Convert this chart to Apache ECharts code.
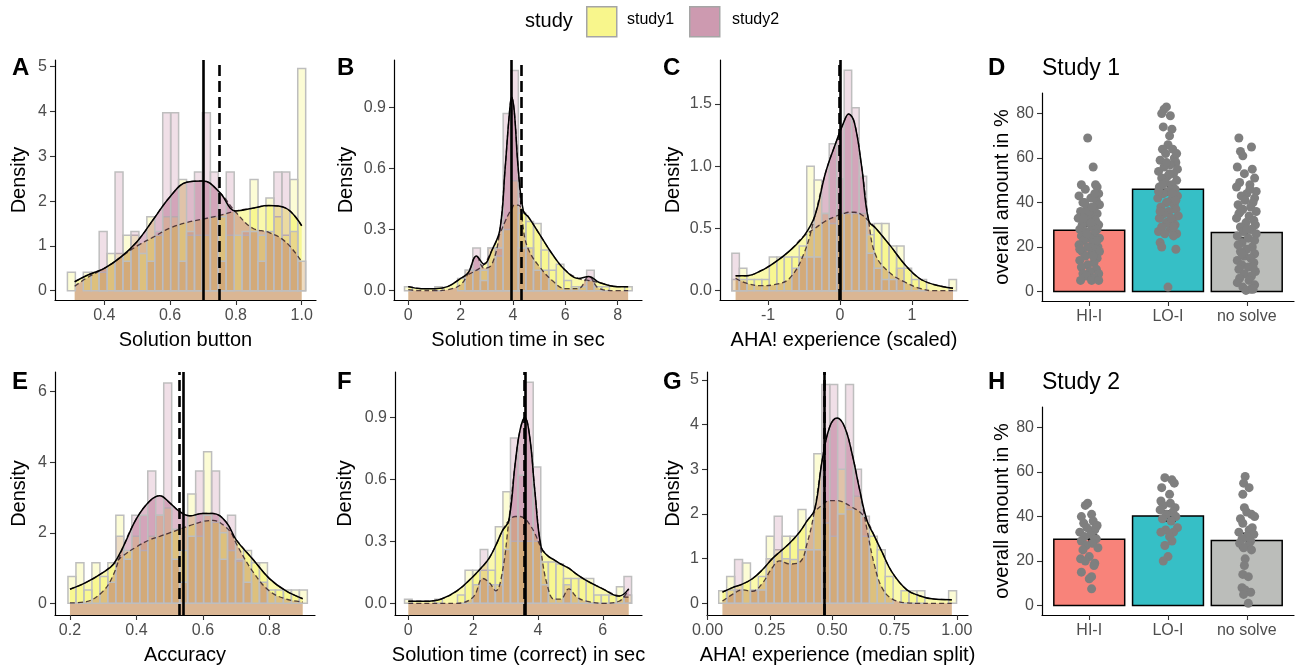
<!DOCTYPE html>
<html><head><meta charset="utf-8">
<script src="https://cdn.jsdelivr.net/npm/echarts@6/dist/echarts.min.js"></script>
<style>html,body{margin:0;padding:0;background:#fff}#chart{width:1304px;height:668px}</style>
</head><body><div id="chart"></div>
<script>
// ================= DATA =================
// Panel A - Solution button
const A_binStart = 0.3, A_binWidth = 0.02414;
const A_hist_study1 = [0.41,0,0.41,0.41,0.41,0.83,0.83,1.24,1.24,0.83,1.65,1.24,1.65,1.65,2.48,1.24,1.24,1.24,1.65,1.65,1.24,1.24,1.24,2.48,1.24,2.07,1.65,1.24,2.48,4.96];
const A_hist_study2 = [0,0,0,0,1.32,0,2.65,0.66,1.32,0,0.66,1.32,3.97,3.97,0.66,1.32,2.65,3.97,2.65,0.66,2.65,0,1.32,1.32,0.66,1.32,2.65,2.65,1.32,0.66];
const A_dens_x = [0.31,0.35,0.4,0.45,0.5,0.55,0.6,0.65,0.7,0.75,0.8,0.85,0.9,0.95,1.0];
const A_dens_study1 = [0.2,0.35,0.5,0.75,1.0,1.2,1.4,1.52,1.6,1.68,1.78,1.84,1.9,1.85,1.45];
const A_dens_study2 = [0.1,0.3,0.5,0.75,1.1,1.6,2.1,2.42,2.45,2.2,1.75,1.4,1.3,1.1,0.65];
const A_means = [0.703, 0.752];
const A_xticks = [0.4,0.6,0.8,1.0], A_yticks = [0,1,2,3,4,5];

// Panel B - Solution time in sec
const B_binStart = 0, B_binWidth = 0.29;
const B_hist_study1 = [0.02,0,0,0,0.02,0,0,0.06,0.1,0.1,0.1,0.21,0.17,0.3,0.54,0.38,0.34,0.33,0.2,0.1,0.13,0.05,0.02,0.02,0.05,0.02,0.02,0,0,0.02];
const B_hist_study2 = [0,0,0,0,0,0,0,0,0.1,0.21,0.05,0.21,0.21,0.87,1.08,0.21,0.21,0.1,0.1,0,0,0,0,0,0.1,0,0,0,0,0];
const B_dens_x = [0,0.5,1,1.5,2,2.3,2.6,2.9,3.2,3.5,3.7,3.85,3.95,4.05,4.2,4.4,4.6,5,5.5,6,6.5,6.9,7.3,8,8.4];
const B_dens_study1 = [0.02,0.01,0.01,0.02,0.06,0.08,0.1,0.13,0.2,0.28,0.34,0.38,0.4,0.42,0.42,0.39,0.36,0.28,0.18,0.1,0.06,0.05,0.04,0.02,0.02];
const B_dens_study2 = [0.005,0,0,0.005,0.03,0.09,0.17,0.11,0.13,0.3,0.6,0.85,0.95,0.88,0.6,0.3,0.2,0.12,0.05,0.01,0.01,0.07,0.01,0,0];
const B_means = [3.93, 4.32];
const B_xticks = [0,2,4,6,8], B_yticks = [0,0.3,0.6,0.9];

// Panel C - AHA! experience (scaled)
const C_binStart = -1.45, C_binWidth = 0.104;
const C_hist_study1 = [0.09,0.18,0.09,0.09,0.09,0.27,0.27,0.27,0.27,0.36,1.0,0.89,0.62,0.54,0.62,0.62,0.62,0.62,0.45,0.54,0.54,0.36,0.36,0.18,0.09,0.09,0,0,0,0.09];
const C_hist_study2 = [0.3,0.09,0,0,0,0,0,0,0.18,0.27,0.27,0.27,0.62,1.18,0.9,1.77,1.47,0.92,0.3,0.18,0.09,0.09,0.18,0,0,0,0,0,0,0];
const C_dens_x = [-1.45,-1.3,-1.1,-0.9,-0.7,-0.5,-0.35,-0.2,-0.05,0.05,0.12,0.2,0.3,0.4,0.5,0.7,0.9,1.1,1.3,1.57];
const C_dens_study1 = [0.12,0.12,0.16,0.23,0.32,0.44,0.5,0.56,0.6,0.62,0.63,0.63,0.61,0.56,0.5,0.36,0.21,0.1,0.05,0.02];
const C_dens_study2 = [0.1,0.06,0.04,0.05,0.1,0.3,0.6,0.95,1.2,1.35,1.42,1.35,1.0,0.55,0.28,0.14,0.07,0.02,0,0];
const C_means = [-0.012, 0.012];
const C_xticks = [-1,0,1], C_yticks = [0,0.5,1.0,1.5];

// Panel E - Accuracy
const E_binStart = 0.206, E_binWidth = 0.024;
const E_hist_study1 = [0.76,1.15,0.38,1.15,0.76,1.15,2.5,1.5,1.9,1.5,1.9,2.5,2.7,2.1,1.5,3.1,1.9,4.3,2.3,2.0,1.5,1.2,1.5,1.15,1.15,0.38,0.38,0.38,0.38,0.38];
const E_hist_study2 = [0,0,0,0,0,0.6,1.9,1.25,2.5,2.5,3.75,2.5,6.25,1.25,0.6,1.9,3.75,2.5,3.75,1.25,2.5,1.25,0.6,0,0.6,0,0,0,0,0];
const E_dens_x = [0.2,0.25,0.3,0.33,0.36,0.4,0.44,0.47,0.5,0.53,0.56,0.6,0.63,0.67,0.7,0.75,0.8,0.85,0.9];
const E_dens_study1 = [0.4,0.6,0.88,1.1,1.35,1.6,1.8,1.9,2.0,2.1,2.2,2.32,2.35,2.15,1.8,1.25,0.7,0.35,0.13];
const E_dens_study2 = [0.01,0.05,0.35,0.8,1.6,2.4,2.9,3.05,2.85,2.6,2.48,2.55,2.55,2.3,1.7,0.9,0.35,0.12,0.04];
const E_means = [0.529, 0.535];
const E_xticks = [0.2,0.4,0.6,0.8], E_yticks = [0,2,4,6];

// Panel F - Solution time (correct) in sec
const F_binStart = 0, F_binWidth = 0.2335;
const F_hist_study1 = [0.02,0,0,0,0.02,0,0,0.04,0.16,0.16,0.16,0.16,0.37,0.54,0.3,0.3,0.3,0.3,0.2,0.2,0.19,0.12,0.12,0.12,0.12,0.04,0.04,0.04,0.08,0.04];
const F_hist_study2 = [0,0,0,0,0,0,0,0,0,0.09,0.26,0.09,0.09,0.26,0.8,0.62,1.07,0.66,0.09,0,0,0.09,0,0,0,0,0,0,0,0.13];
const F_dens_x = [0,0.5,1,1.5,2,2.3,2.5,2.7,2.9,3.1,3.3,3.45,3.6,3.75,3.9,4.1,4.3,4.5,4.7,4.95,5.2,5.5,6,6.5,6.8];
const F_dens_study1 = [0.01,0.01,0.02,0.06,0.13,0.18,0.22,0.28,0.35,0.4,0.42,0.42,0.41,0.38,0.34,0.27,0.23,0.21,0.19,0.17,0.14,0.11,0.07,0.035,0.03];
const F_dens_study2 = [0,0,0,0,0.03,0.12,0.1,0.06,0.15,0.4,0.68,0.84,0.9,0.8,0.55,0.25,0.08,0.02,0.02,0.07,0.03,0.01,0,0.01,0.07];
const F_means = [3.575, 3.61];
const F_xticks = [0,2,4,6], F_yticks = [0,0.3,0.6,0.9];

// Panel G - AHA! experience (median split)
const G_binStart = 0.061, G_binWidth = 0.0318;
const G_hist_study1 = [0.28,0.6,0.3,0.9,0.28,0.6,1.5,1.2,1.5,1.5,2.1,1.2,3.35,1.8,1.5,3.0,2.1,2.4,1.5,1.5,1.2,0.6,0,0.28,0.28,0.28,0,0,0,0.28];
const G_hist_study2 = [0,0.3,0.98,0,0.3,0.3,1.0,1.95,1.0,0.98,1.2,1.2,1.2,4.9,4.9,2.0,4.9,3.0,1.95,0,0,0,0,0,0,0,0,0,0,0];
const G_dens_x = [0.06,0.1,0.14,0.18,0.22,0.26,0.29,0.33,0.37,0.4,0.43,0.46,0.49,0.52,0.55,0.58,0.61,0.64,0.67,0.7,0.74,0.8,0.85,0.9,0.98];
const G_dens_study1 = [0.25,0.35,0.43,0.55,0.75,1.0,1.15,1.35,1.6,1.85,2.05,2.2,2.3,2.3,2.25,2.15,2.05,1.85,1.5,1.15,0.7,0.3,0.17,0.1,0.08];
const G_dens_study2 = [0.05,0.2,0.3,0.27,0.45,0.8,0.95,0.88,0.92,1.35,2.1,3.2,3.95,4.15,3.95,3.35,2.55,1.65,0.85,0.35,0.1,0.01,0,0,0];
const G_means = [0.465, 0.475];
const G_xticks = [0,0.25,0.5,0.75,1.0], G_yticks = [0,1,2,3,4,5];

// Panels D / H - overall amount in %
const categories = ['HI-I','LO-I','no solve'];
const pct_yticks = [0,20,40,60,80];
const D_means = [27.5, 46, 26.5];
const D_err = [[25.5,29.5],[43.5,48.5],[24,29]];
const D_points_HI = [[-0.02,69],[0.05,56],[-0.1,48],[0.08,48],[0.1,47],[-0.05,46],[0.12,44],[-0.13,43],[0.02,42],[0.09,41],[-0.08,40],[0.13,39],[-0.03,38],[0.06,37],[-0.11,36],[0.1,35],[-0.06,34],[0.03,34],[-0.14,33],[0.08,32],[-0.01,31],[0.12,30],[-0.09,30],[0.04,29],[-0.12,28],[0.1,28],[-0.04,27],[0.07,26],[-0.1,25],[0.01,24],[0.13,24],[-0.07,23],[0.05,22],[-0.13,21],[0.11,20],[-0.02,20],[0.08,19],[0.13,18],[-0.09,18],[0.03,17],[-0.05,16],[0.1,15],[-0.12,14],[0.06,13],[-0.02,12],[-0.1,11],[0.09,10],[0.01,9],[-0.08,8],[0.12,8],[-0.04,7],[0.06,6],[-0.11,5],[0.03,5],[0.12,5],[0.0,36],[-0.06,40],[0.07,44],[-0.03,26],[0.02,31],[0.04,38],[-0.07,33],[0.1,23],[-0.12,19],[0.05,16]];
const D_points_LO = [[-0.02,83],[-0.05,82],[-0.08,80],[0.03,79],[-0.06,74],[0.05,73],[0.02,70],[0.0,66],[-0.07,64],[0.06,64],[-0.03,62],[0.08,60],[-0.1,59],[0.1,58],[0.03,57],[-0.05,56],[0.12,55],[-0.12,54],[0.07,53],[0.0,52],[-0.08,51],[0.11,50],[-0.03,49],[0.05,48],[-0.11,47],[0.09,46],[0.0,45],[-0.06,44],[0.12,43],[-0.13,42],[0.04,41],[-0.02,40],[0.08,39],[-0.09,38],[0.1,37],[0.01,36],[-0.05,35],[0.13,34],[-0.11,33],[0.06,32],[-0.02,31],[0.09,30],[-0.08,29],[0.03,28],[-0.12,27],[0.11,26],[-0.04,26],[0.07,25],[-0.1,22],[-0.08,20],[0.1,19],[0.0,2],[0.05,44],[-0.07,48],[0.02,53],[0.1,41],[-0.1,36],[0.04,33],[-0.02,58],[0.11,62],[-0.12,45],[0.07,29]];
const D_points_NO = [[-0.1,69],[0.06,65],[-0.08,63],[-0.05,61],[-0.12,56],[0.07,55],[-0.03,53],[0.1,51],[-0.09,49],[0.04,48],[-0.13,47],[0.12,45],[0.0,44],[-0.07,43],[0.1,42],[-0.02,41],[0.08,40],[-0.11,39],[0.05,38],[-0.05,37],[0.12,36],[-0.1,35],[0.03,34],[-0.13,33],[0.09,32],[-0.01,31],[0.11,30],[-0.08,29],[0.06,28],[-0.04,27],[0.12,26],[-0.12,25],[0.02,24],[0.1,23],[-0.06,22],[-0.11,21],[0.07,20],[0.0,19],[-0.08,18],[0.1,17],[-0.03,16],[0.05,15],[-0.12,14],[0.09,13],[-0.06,12],[0.02,11],[-0.1,10],[0.11,9],[-0.03,8],[0.06,7],[-0.09,6],[0.03,5],[-0.12,4],[0.1,3],[-0.05,2],[0.05,1],[-0.01,0.5],[0.08,1],[-0.08,36],[0.0,28],[0.04,46],[-0.06,17],[0.08,11]];
const H_means = [29.8, 40.3, 29.2];
const H_err = [[27.5,32],[38,42.5],[26,32.5]];
const H_points_HI = [[-0.02,46],[-0.05,45],[0.03,41],[-0.1,40],[0.05,38],[-0.07,37],[0.1,36],[-0.03,35],[0.07,34],[-0.12,33],[0.02,32],[-0.06,31],[0.09,30],[-0.1,29],[0.04,28],[-0.04,27],[0.11,26],[-0.08,25],[0.0,22],[-0.11,21],[-0.05,20],[0.07,19],[0.06,18],[-0.1,15],[0.03,13],[0.0,12],[0.03,7.5],[0.08,35]];
const H_points_LO = [[-0.04,57.5],[0.05,56.5],[0.08,55],[-0.08,53],[0.02,50],[-0.09,47],[0.03,46],[-0.06,45],[0.09,44],[-0.1,43],[0.06,42],[-0.02,41],[0.1,40],[-0.07,39],[0.04,38],[0.12,35],[-0.03,34],[0.07,33],[-0.09,33],[0.02,31],[0.05,29],[-0.04,27],[0.0,22],[-0.06,20]];
const H_points_NO = [[-0.02,58],[-0.04,55],[0.03,53],[-0.05,50],[-0.03,44],[0.0,42],[0.06,41],[0.1,40],[-0.08,39],[-0.05,37],[0.07,35],[0.03,34],[-0.1,33],[0.09,32],[0.0,31],[-0.06,30],[0.05,29],[-0.09,28],[0.02,27],[-0.04,26],[0.06,25],[-0.02,21],[-0.03,18],[-0.05,14],[0.02,13],[-0.06,8],[-0.02,7],[0.05,6],[-0.04,5],[0.02,1]];

// ================= STYLE / LAYOUT =================
const FONT = "'Liberation Sans', Arial, Helvetica, sans-serif";
const DENS1 = 'rgba(241,237,21,0.5)', DENS2 = 'rgba(159,59,105,0.5)';
const BAR1 = 'rgba(241,237,21,0.18)', BAR2 = 'rgba(159,59,105,0.16)';
const CAT_COLORS = ['#F8837A','#36BFC6','#BBBDBA'];
const fx = d => v => Number(v).toFixed(d);

const histPanels = [
  {g:[55,60,261,240], xr:[0.2502,1.0435], yr:[-0.2076,5.15], xt:A_xticks, xd:1, yt:A_yticks, yd:0, xname:'Solution button', yGap:26,
   bs:A_binStart, bw:A_binWidth, h1:A_hist_study1, h2:A_hist_study2, dx:A_dens_x, d1:A_dens_study1, d2:A_dens_study2, m:A_means, solidIdx:0},
  {g:[394,60,248,240], xr:[-0.546,8.93], yr:[-0.0456,1.132], xt:B_xticks, xd:0, yt:B_yticks, yd:1, xname:'Solution time in sec', yGap:38,
   bs:B_binStart, bw:B_binWidth, h1:B_hist_study1, h2:B_hist_study2, dx:B_dens_x, d1:B_dens_study1, d2:B_dens_study2, m:B_means, solidIdx:0},
  {g:[720,60,248,240], xr:[-1.667,1.778], yr:[-0.0747,1.853], xt:C_xticks, xd:0, yt:C_yticks, yd:1, xname:'AHA! experience (scaled)', yGap:37,
   bs:C_binStart, bw:C_binWidth, h1:C_hist_study1, h2:C_hist_study2, dx:C_dens_x, d1:C_dens_study1, d2:C_dens_study2, m:C_means, solidIdx:1},
  {g:[55,372,260,243], xr:[0.155,0.937], yr:[-0.332,6.56], xt:E_xticks, xd:1, yt:E_yticks, yd:0, xname:'Accuracy', yGap:26,
   bs:E_binStart, bw:E_binWidth, h1:E_hist_study1, h2:E_hist_study2, dx:E_dens_x, d1:E_dens_study1, d2:E_dens_study2, m:E_means, solidIdx:1},
  {g:[395,372,247,243], xr:[-0.411,7.21], yr:[-0.0566,1.119], xt:F_xticks, xd:0, yt:F_yticks, yd:1, xname:'Solution time (correct) in sec', yGap:40,
   bs:F_binStart, bw:F_binWidth, h1:F_hist_study1, h2:F_hist_study2, dx:F_dens_x, d1:F_dens_study1, d2:F_dens_study2, m:F_means, solidIdx:1},
  {g:[707,372,261,243], xr:[-0.002,1.045], yr:[-0.262,5.18], xt:G_xticks, xd:2, yt:G_yticks, yd:0, xname:'AHA! experience (median split)', yGap:24,
   bs:G_binStart, bw:G_binWidth, h1:G_hist_study1, h2:G_hist_study2, dx:G_dens_x, d1:G_dens_study1, d2:G_dens_study2, m:G_means, solidIdx:1}
];
const barPanels = [
  {g:[1042,93,252,208], means:D_means, err:D_err, pts:[D_points_HI,D_points_LO,D_points_NO]},
  {g:[1042,407,252,208], means:H_means, err:H_err, pts:[H_points_HI,H_points_LO,H_points_NO]}
];

const grids = [], xAxes = [], yAxes = [], series = [];
const axisLineStyle = {show:true, onZero:false, lineStyle:{color:'#000', width:1.2}};
const tickStyle = vals => ({show:true, customValues:vals, length:5, lineStyle:{color:'#333', width:1.1}});
const labelStyle = (vals, f, margin) => ({show:true, customValues:vals, formatter:f, color:'#4D4D4D', fontSize:16, fontFamily:FONT, margin:margin});

function addGrid(g){
  grids.push({left:g[0], top:g[1], width:g[2], height:g[3], containLabel:false, outerBoundsMode:'none'});
  return grids.length - 1;
}

function histSeries(gi, start, w, heights, fill){
  const data = [];
  heights.forEach((h,k) => { if (h > 0) data.push([start + k*w, h]); });
  return {type:'custom', xAxisIndex:gi, yAxisIndex:gi, z:3, silent:true, data:data, encode:{x:0,y:1},
    renderItem:(params, api) => {
      const c = api.value(0), h = api.value(1);
      const p0 = api.coord([c - w/2, h]), p1 = api.coord([c + w/2, 0]);
      return {type:'rect', shape:{x:p0[0], y:p0[1], width:p1[0]-p0[0], height:p1[1]-p0[1]},
        style:{fill:fill, stroke:'#BEBEBE', lineWidth:1.5}};
    }};
}

histPanels.forEach(p => {
  const gi = addGrid(p.g);
  xAxes.push({type:'value', gridIndex:gi, min:p.xr[0], max:p.xr[1], axisLine:axisLineStyle, axisTick:tickStyle(p.xt),
    axisLabel:labelStyle(p.xt, fx(p.xd), 8), splitLine:{show:false},
    name:p.xname, nameLocation:'middle', nameGap:30, nameTextStyle:{color:'#000', fontSize:20, fontFamily:FONT}});
  yAxes.push({type:'value', gridIndex:gi, min:p.yr[0], max:p.yr[1], axisLine:axisLineStyle, axisTick:tickStyle(p.yt),
    axisLabel:labelStyle(p.yt, fx(p.yd), 8), splitLine:{show:false},
    name:'Density', nameLocation:'middle', nameGap:p.yGap, nameTextStyle:{color:'#000', fontSize:20, fontFamily:FONT}});
  const pts1 = p.dx.map((x,i) => [x, p.d1[i]]);
  const pts2 = p.dx.map((x,i) => [x, p.d2[i]]);
  const env = p.dx.map((x,i) => [x, Math.max(p.d1[i], p.d2[i])]);
  const base = {type:'line', xAxisIndex:gi, yAxisIndex:gi, smooth:0.4, showSymbol:false, symbol:'none', silent:true};
  series.push(Object.assign({}, base, {data:pts1, z:1, lineStyle:{width:0, opacity:0}, areaStyle:{color:DENS1, origin:'start'}}));
  series.push(Object.assign({}, base, {data:pts2, z:1, lineStyle:{width:0, opacity:0}, areaStyle:{color:DENS2, origin:'start'}}));
  series.push(histSeries(gi, p.bs, p.bw, p.h1, BAR1));
  series.push(histSeries(gi, p.bs, p.bw, p.h2, BAR2));
  series.push(Object.assign({}, base, {data:pts1, z:4, lineStyle:{width:1.3, color:'rgba(45,25,35,0.8)', type:[5,3]}}));
  series.push(Object.assign({}, base, {data:pts2, z:4, lineStyle:{width:1.3, color:'rgba(45,25,35,0.8)', type:[5,3]}}));
  const solid = p.m[p.solidIdx], dashed = p.m[1 - p.solidIdx];
  series.push(Object.assign({}, base, {data:env, z:5, lineStyle:{width:1.5, color:'#000'},
    markLine:{silent:true, symbol:['none','none'], label:{show:false}, animation:false,
      data:[{xAxis:dashed, lineStyle:{type:[11,5], width:2.6, color:'#000'}},
            {xAxis:solid, lineStyle:{type:'solid', width:2.6, color:'#000'}}]}}));
});

barPanels.forEach(p => {
  const gi = addGrid(p.g);
  xAxes.push({type:'value', gridIndex:gi, min:0.4, max:3.6, axisLine:axisLineStyle, axisTick:tickStyle([1,2,3]),
    axisLabel:labelStyle([1,2,3], v => categories[Math.round(v) - 1], 8), splitLine:{show:false}});
  yAxes.push({type:'value', gridIndex:gi, min:-4.25, max:89.25, axisLine:axisLineStyle, axisTick:tickStyle(pct_yticks),
    axisLabel:labelStyle(pct_yticks, fx(0), 8), splitLine:{show:false},
    name:'overall amount in %', nameLocation:'middle', nameGap:27, nameTextStyle:{color:'#000', fontSize:20, fontFamily:FONT}});
  series.push({type:'custom', xAxisIndex:gi, yAxisIndex:gi, z:2, silent:true, encode:{x:0,y:1},
    data:p.means.map((m,i) => [i+1, m, i]),
    renderItem:(params, api) => {
      const c = api.value(0), m = api.value(1), ci = api.value(2);
      const p0 = api.coord([c - 0.45, m]), p1 = api.coord([c + 0.45, 0]);
      return {type:'rect', shape:{x:p0[0], y:p0[1], width:p1[0]-p0[0], height:p1[1]-p0[1]},
        style:{fill:CAT_COLORS[ci], stroke:'#000', lineWidth:1.5}};
    }});
  series.push({type:'custom', xAxisIndex:gi, yAxisIndex:gi, z:3, silent:true, encode:{x:0,y:[1,2]},
    data:p.err.map((e,i) => [i+1, e[0], e[1]]),
    renderItem:(params, api) => {
      const c = api.value(0);
      const lo = api.coord([c, api.value(1)]), hi = api.coord([c, api.value(2)]);
      const l = api.coord([c - 0.1, api.value(1)]), r = api.coord([c + 0.1, api.value(2)]);
      const st = {stroke:'#000', lineWidth:1.5};
      return {type:'group', children:[
        {type:'line', shape:{x1:lo[0], y1:lo[1], x2:hi[0], y2:hi[1]}, style:st},
        {type:'line', shape:{x1:l[0], y1:lo[1], x2:r[0], y2:lo[1]}, style:st},
        {type:'line', shape:{x1:l[0], y1:hi[1], x2:r[0], y2:hi[1]}, style:st}]};
    }});
  p.pts.forEach((arr, ci) => {
    series.push({type:'scatter', xAxisIndex:gi, yAxisIndex:gi, z:4, silent:true, symbolSize:9,
      itemStyle:{color:'#7F7F7F', opacity:1}, data:arr.map(d => [ci + 1 + d[0], d[1]])});
  });
});

// ---- text elements ----
const letters = [['A',12,68.5],['B',337,68.5],['C',663,68.5],['D',988,68.5],['E',12,382.5],['F',337,382.5],['G',663,382.5],['H',988,382.5]];
const graphic = letters.map(l => ({type:'text', left:l[1], top:l[2]-12, silent:true,
  style:{text:l[0], fontSize:24, fontWeight:'bold', fontFamily:FONT, fill:'#000'}}));
graphic.push({type:'text', left:1042, top:57, silent:true, style:{text:'Study 1', fontSize:23, fontFamily:FONT, fill:'#000'}});
graphic.push({type:'text', left:1042, top:371, silent:true, style:{text:'Study 2', fontSize:23, fontFamily:FONT, fill:'#000'}});
graphic.push({type:'text', left:525, top:11, silent:true, style:{text:'study', fontSize:20, fontFamily:FONT, fill:'#000'}});
graphic.push({type:'rect', left:586, top:6, silent:true, shape:{width:30, height:30}, style:{fill:'#F8F68C', stroke:'#A5A5A5', lineWidth:1.5}});
graphic.push({type:'text', left:627, top:12, silent:true, style:{text:'study1', fontSize:16, fontFamily:FONT, fill:'#000'}});
graphic.push({type:'rect', left:689, top:6, silent:true, shape:{width:30, height:30}, style:{fill:'#CD9AB0', stroke:'#A5A5A5', lineWidth:1.5}});
graphic.push({type:'text', left:732, top:12, silent:true, style:{text:'study2', fontSize:16, fontFamily:FONT, fill:'#000'}});

const chart = echarts.init(document.getElementById('chart'), null, {renderer:'canvas'});
chart.setOption({
  animation:false,
  backgroundColor:'#fff',
  textStyle:{fontFamily:FONT},
  grid:grids, xAxis:xAxes, yAxis:yAxes, series:series, graphic:graphic
});
</script>
</body></html>
